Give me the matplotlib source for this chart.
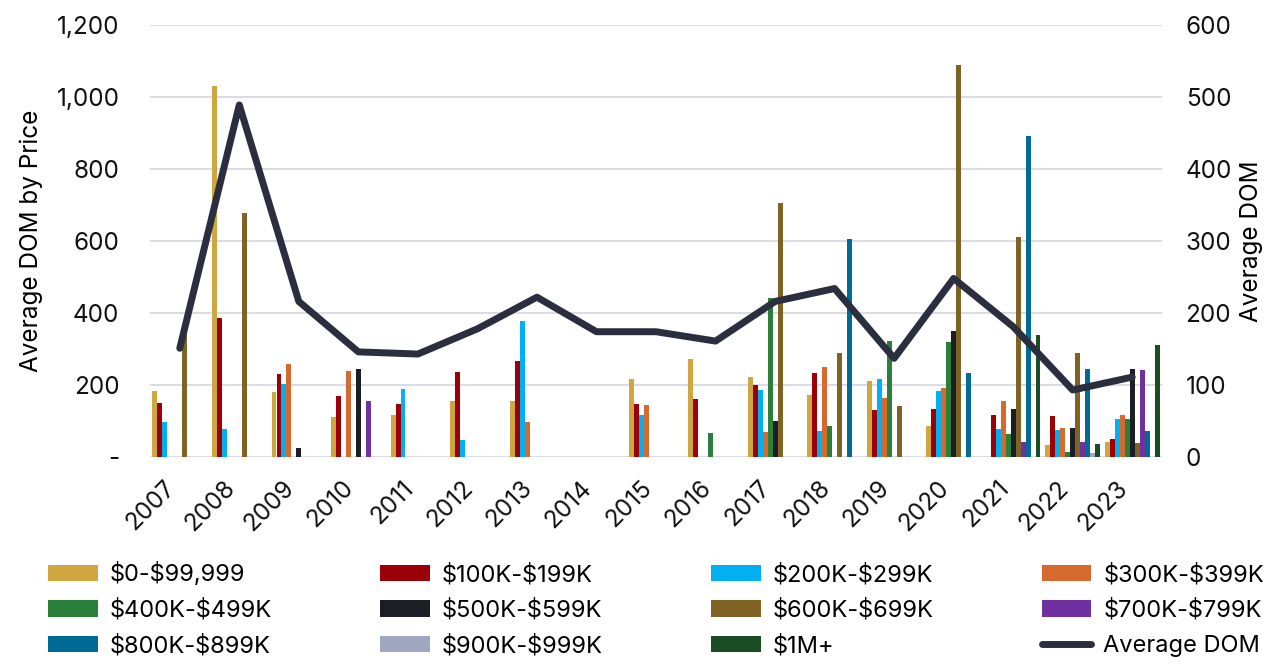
# Average days on market by price band, 2007-2023 (bars) + overall average DOM (line)
import matplotlib
matplotlib.use("Agg")
import matplotlib.pyplot as plt
from matplotlib.ticker import FuncFormatter
import numpy as np

plt.rcParams["font.family"] = ["Inter", "DejaVu Sans"]

years = [str(y) for y in range(2007, 2024)]

# DOM by price band (left axis), one value per year
p0 = [183, 1031, 181, 110, 116, 156, 155, 0, 217, 271, 223, 172, 212, 85, 0, 32, 43]
p100 = [149, 387, 231, 169, 147, 237, 266, 0, 147, 161, 200, 232, 131, 133, 116, 114, 49]
p200 = [98, 77, 202, 0, 188, 47, 378, 0, 118, 0, 185, 72, 216, 183, 77, 75, 106]
p300 = [0, 0, 259, 240, 0, 0, 97, 0, 145, 0, 69, 249, 163, 193, 155, 80, 117]
p400 = [0, 0, 0, 0, 0, 0, 0, 0, 0, 66, 442, 85, 322, 320, 63, 14, 105]
p500 = [0, 0, 26, 245, 0, 0, 0, 0, 0, 0, 99, 0, 0, 351, 133, 80, 244]
p600 = [360, 679, 0, 0, 0, 0, 0, 0, 0, 0, 706, 288, 141, 1089, 612, 290, 40]
p700 = [0, 0, 0, 156, 0, 0, 0, 0, 0, 0, 0, 0, 0, 0, 42, 43, 241]
p800 = [0, 0, 0, 0, 0, 0, 0, 0, 0, 0, 0, 606, 0, 234, 892, 244, 73]
p900 = [0, 0, 0, 0, 0, 0, 0, 0, 0, 0, 0, 0, 0, 0, 0, 12, 0]
p1m = [0, 0, 0, 0, 0, 0, 0, 0, 0, 0, 0, 0, 0, 0, 338, 37, 311]

# overall average DOM (right axis)
avg_dom = [151, 489, 216, 146, 143, 178, 222, 174, 174, 161, 216, 234, 137, 248, 181, 93, 111]

band_labels = ["$0-$99,999", "$100K-$199K", "$200K-$299K", "$300K-$399K",
               "$400K-$499K", "$500K-$599K", "$600K-$699K", "$700K-$799K",
               "$800K-$899K", "$900K-$999K", "$1M+"]
band_values = [p0, p100, p200, p300, p400, p500, p600, p700, p800, p900, p1m]
band_colors = ["#D0A640", "#9B0009", "#00B0F0", "#D6692D", "#2A7F3A", "#1C1E26",
               "#7F6324", "#7030A0", "#006B94", "#9FA8C0", "#1B4D24"]
line_color = "#2A2E3E"
grid_color = "#DADBE6"

W, H = 1278, 666
fig = plt.figure(figsize=(W / 100, H / 100), dpi=100)
ax = fig.add_axes([150 / W, 1 - 457 / H, 1012 / W, 432 / H])

x = np.arange(len(years))
w = 1 / 12
handles = []
for k, (vals, col, lab) in enumerate(zip(band_values, band_colors, band_labels)):
    # escape "$" so the labels are not read as mathtext
    b = ax.bar(x + (k - 5) * w, vals, width=w, color=col, label=lab.replace("$", r"\$"), zorder=2)
    handles.append(b)

ax.set_xlim(-0.5, len(years) - 0.5)
ax.set_ylim(0, 1200)
ax.set_yticks(range(0, 1201, 200))
ax.yaxis.set_major_formatter(FuncFormatter(lambda v, p: "-" if v == 0 else f"{int(v):,}"))
ax.grid(axis="y", color=grid_color, linewidth=1.4, zorder=0)
ax.set_axisbelow(True)
for s in ax.spines.values():
    s.set_visible(False)
ax.tick_params(axis="y", length=0, labelsize=17.5, pad=22, colors="#111111")
ax.set_xticks(x)
ax.set_xticklabels(years, rotation=45, ha="right")
ax.tick_params(axis="x", length=0, labelsize=17.5, pad=14, colors="#111111")
ax.set_ylabel("Average DOM by Price", fontsize=17.5, labelpad=10)

ax2 = ax.twinx()
ax2.set_ylim(0, 600)
ax2.set_yticks(range(0, 601, 100))
for s in ax2.spines.values():
    s.set_visible(False)
ax2.tick_params(axis="y", length=0, labelsize=17.5, pad=17, colors="#111111")
ln, = ax2.plot(x, avg_dom, color=line_color, linewidth=5,
               solid_capstyle="round", solid_joinstyle="round", label="Average DOM", zorder=3)
ax2.set_ylabel("Average DOM", fontsize=17.5, labelpad=6)

# legend: 3 rows x 4 columns, filled row by row
items = handles + [ln]
order = [0, 4, 8, 1, 5, 9, 2, 6, 10, 3, 7, 11]
leg = fig.legend([items[i] for i in order], [items[i].get_label() for i in order],
                 loc="upper left", bbox_to_anchor=(48 / W, 1 - 569 / H, 1216 / W, 0.01),
                 mode="expand", ncol=4, frameon=False, fontsize=17,
                 handlelength=2.1, handleheight=0.7, handletextpad=0.5,
                 labelspacing=0.55, borderpad=0, borderaxespad=0)

fig.savefig("out.png", dpi=100)
